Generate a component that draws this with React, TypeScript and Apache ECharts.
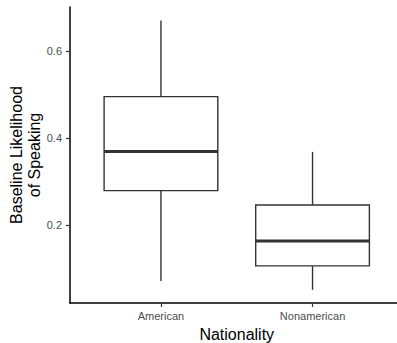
import React, { useEffect, useRef } from "react";
import * as echarts from "echarts";

// Data
const categories = ["American", "Nonamerican"];
const lowerWhisker = [0.071, 0.051];
const q1 = [0.279, 0.106];
const median = [0.369, 0.163];
const q3 = [0.495, 0.246];
const upperWhisker = [0.67, 0.368];
const yTicks = [0.2, 0.4, 0.6];
const xTicks = [0, 1];

const FONT = "Liberation Sans, Arial, sans-serif";

export default function App() {
  const ref = useRef<HTMLDivElement>(null);

  useEffect(() => {
    if (!ref.current) return;
    const chart = echarts.init(ref.current, null, { renderer: "svg" });

    const rows = categories.map((_, i) => [
      i,
      lowerWhisker[i],
      q1[i],
      median[i],
      q3[i],
      upperWhisker[i],
    ]);

    const stroke = "#333333";

    const option: any = {
      animation: false,
      backgroundColor: "#ffffff",
      grid: {
        left: 70,
        top: 7,
        bottom: 40,
        width: 333.5,
        containLabel: false,
        outerBoundsMode: "none",
      },
      xAxis: {
        type: "value",
        min: -0.6,
        max: 1.6,
        name: "Nationality",
        nameLocation: "middle",
        nameGap: 23,
        nameMoveOverlap: false,
        nameTextStyle: { fontSize: 16, color: "#000000", fontFamily: FONT },
        axisLine: { show: true, onZero: false, lineStyle: { color: "#000000", width: 1.5 } },
        axisTick: {
          show: true,
          length: 4,
          customValues: xTicks,
          lineStyle: { color: stroke, width: 1.2 },
        },
        axisLabel: {
          customValues: xTicks,
          margin: 7,
          fontSize: 11,
          color: "#4d4d4d",
          fontFamily: FONT,
          formatter: (v: number) => categories[Math.round(v)] ?? "",
        },
        splitLine: { show: false },
      },
      yAxis: {
        type: "value",
        min: 0.0207,
        max: 0.701,
        name: "Baseline Likelihood\nof Speaking",
        nameLocation: "middle",
        nameRotate: 90,
        nameGap: 27,
        nameMoveOverlap: false,
        nameTextStyle: {
          fontSize: 16,
          lineHeight: 18,
          color: "#000000",
          fontFamily: FONT,
          align: "center",
        },
        axisLine: { show: true, onZero: false, lineStyle: { color: "#000000", width: 1.5 } },
        axisTick: {
          show: true,
          length: 4,
          customValues: yTicks,
          lineStyle: { color: stroke, width: 1.2 },
        },
        axisLabel: {
          customValues: yTicks,
          margin: 8,
          fontSize: 11,
          color: "#4d4d4d",
          fontFamily: FONT,
          formatter: (v: number) => String(Math.round(v * 10) / 10),
        },
        splitLine: { show: false },
      },
      series: [
        {
          type: "custom",
          data: rows,
          clip: false,
          renderItem: (params: any, api: any) => {
            const x = api.value(0);
            const lo = api.coord([x, api.value(1)]);
            const b1 = api.coord([x, api.value(2)]);
            const md = api.coord([x, api.value(3)]);
            const b3 = api.coord([x, api.value(4)]);
            const hi = api.coord([x, api.value(5)]);
            const w = api.size([0.75, 0])[0];
            const cx = lo[0];
            const left = cx - w / 2;
            const right = cx + w / 2;
            const lineStyle = { stroke, lineWidth: 1.4, fill: null };
            return {
              type: "group",
              children: [
                {
                  type: "line",
                  shape: { x1: cx, y1: hi[1], x2: cx, y2: b3[1] },
                  style: lineStyle,
                },
                {
                  type: "line",
                  shape: { x1: cx, y1: b1[1], x2: cx, y2: lo[1] },
                  style: lineStyle,
                },
                {
                  type: "rect",
                  shape: { x: left, y: b3[1], width: w, height: b1[1] - b3[1] },
                  style: { stroke, lineWidth: 1.4, fill: "#ffffff" },
                },
                {
                  type: "line",
                  shape: { x1: left, y1: md[1], x2: right, y2: md[1] },
                  style: { stroke, lineWidth: 3 },
                },
              ],
            };
          },
        },
      ],
    };

    chart.setOption(option);
    return () => chart.dispose();
  }, []);

  return (
    <div
      ref={ref}
      style={{ position: "fixed", left: 0, top: 0, width: 397, height: 343 }}
    />
  );
}
